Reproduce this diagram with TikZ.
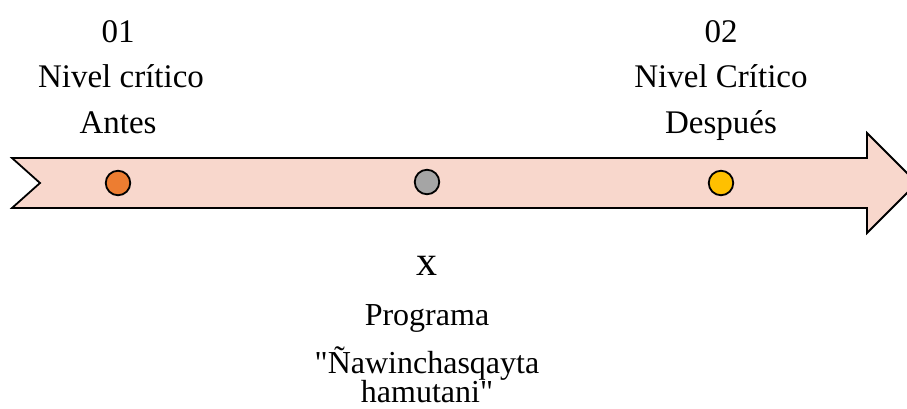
\documentclass[tikz,border=0pt]{standalone}
\usepackage{fontspec}
\setmainfont{Liberation Serif}[Ligatures=TeXOff]
\definecolor{arrowfill}{HTML}{F8D7CC}
\definecolor{dotorange}{HTML}{ED7D31}
\definecolor{dotgray}{HTML}{A5A5A5}
\definecolor{dotyellow}{HTML}{FFC000}
\tikzset{
  lbl/.style={anchor=base, inner sep=0pt, font=\fontsize{33bp}{35bp}\selectfont},
  midlbl/.style={anchor=base, inner sep=0pt, font=\fontsize{32bp}{34bp}\selectfont},
  dot/.style={circle, draw=black, line width=1.8bp, minimum size=24.5bp, inner sep=0pt},
  timeline/.style={draw=black, fill=arrowfill, line width=1.8bp, line join=miter}
}
\begin{document}
\begin{tikzpicture}[x=1bp,y=1bp]
\useasboundingbox (0,0) rectangle (907,408);
\clip (0,0) rectangle (907,408);
\fill[white] (0,0) rectangle (907,408);
% arrow
\draw[timeline] (12,250) -- (867,250) -- (867,275) -- (917,225) -- (867,175) -- (867,200) -- (12,200) -- (40,225) -- cycle;
% dots
\node[dot, fill=dotorange] (c1) at (118,225) {};
\node[dot, fill=dotgray] (c2) at (427,226) {};
\node[dot, fill=dotyellow] (c3) at (721,225) {};
% labels left
\node[lbl] (t01) at (118,366) {01};
\node[lbl] (n1) at (121,321) {Nivel crítico};
\node[lbl] (a1) at (118,275) {Antes};
% labels right
\node[lbl] (t02) at (721,366) {02};
\node[lbl] (n2) at (721,321) {Nivel Crítico};
\node[lbl] (d2) at (721,275) {Después};
% labels middle
\node[anchor=base, inner sep=0pt, font=\fontsize{42bp}{44bp}\selectfont] (xx) at (427,133) {x};
\node[midlbl] (prog) at (427,83) {Programa};
\node[midlbl] (naw) at (427,35) {"Ñawinchasqayta};
\node[midlbl] (ham) at (427,6) {hamutani"};
\end{tikzpicture}
\end{document}
